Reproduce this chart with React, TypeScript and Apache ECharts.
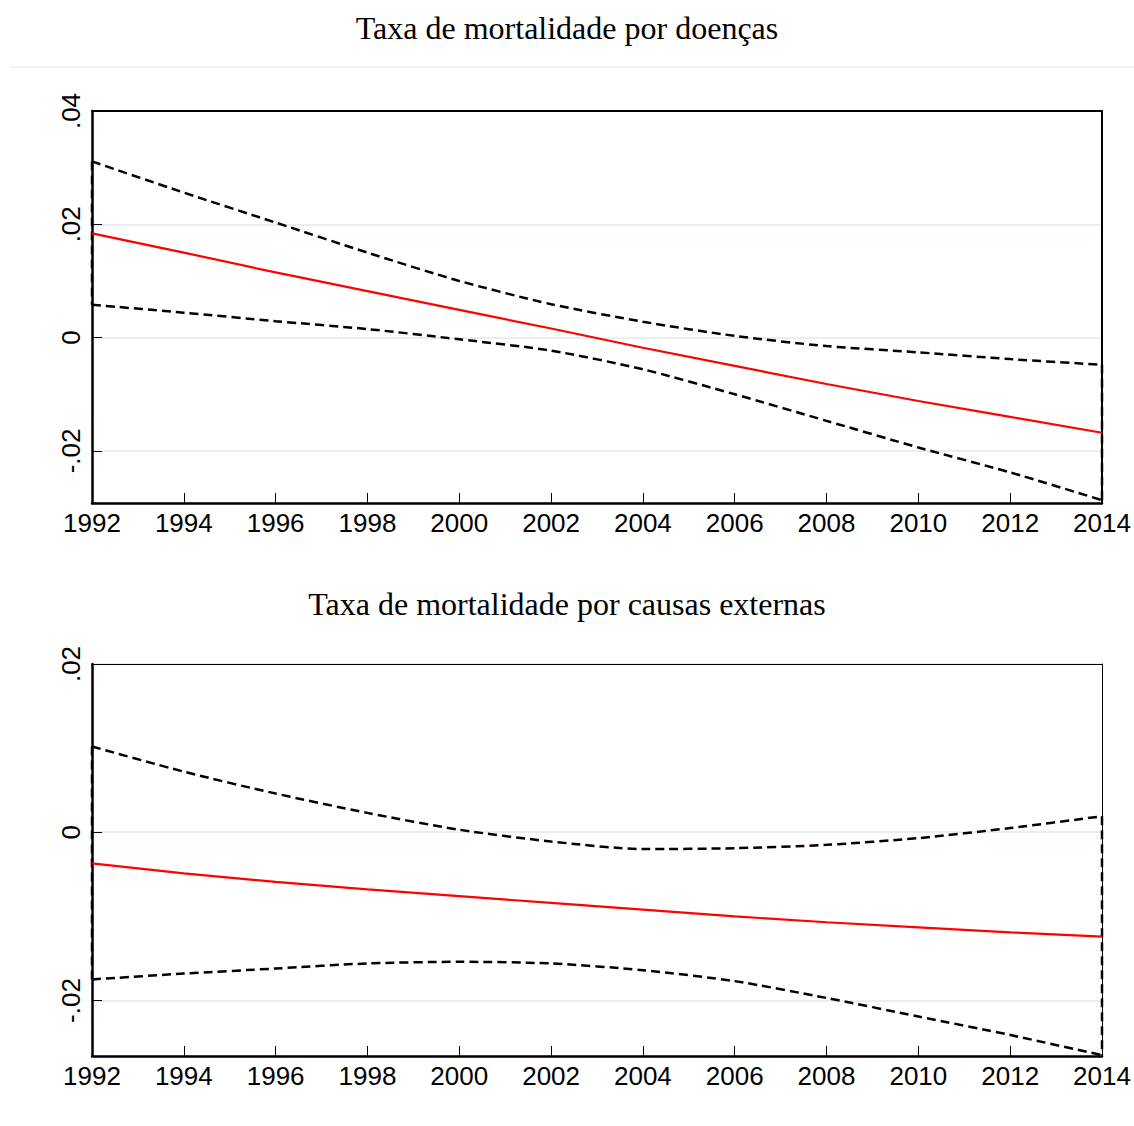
import React, { useEffect, useRef } from "react";
import * as echarts from "echarts";

const years = [1992, 1994, 1996, 1998, 2000, 2002, 2004, 2006, 2008, 2010, 2012, 2014];

const titleTop = "Taxa de mortalidade por doenças";
const titleBottom = "Taxa de mortalidade por causas externas";

const doencasFit = [0.0184, 0.015, 0.0115, 0.0082, 0.0049, 0.0016, -0.0018, -0.005, -0.0082, -0.0112, -0.014, -0.0168];
const doencasUpper = [0.0311, 0.0256, 0.0203, 0.015, 0.01, 0.0059, 0.0028, 0.0003, -0.0015, -0.0026, -0.0038, -0.0048];
const doencasLower = [0.0058, 0.0044, 0.0029, 0.0015, -0.0003, -0.0023, -0.0056, -0.01, -0.0147, -0.0194, -0.0238, -0.0287];

const externasFit = [-0.0037, -0.0049, -0.0059, -0.0068, -0.0076, -0.0084, -0.0092, -0.01, -0.0107, -0.0113, -0.0119, -0.0124];
const externasUpper = [0.0102, 0.0072, 0.0046, 0.0023, 0.0003, -0.0011, -0.002, -0.0019, -0.0015, -0.0007, 0.0005, 0.0019];
const externasLower = [-0.0175, -0.0168, -0.0162, -0.0156, -0.0154, -0.0156, -0.0164, -0.0177, -0.0197, -0.0219, -0.0241, -0.0265];

const SANS = "'Liberation Sans', Arial, sans-serif";
const SERIF = "'Liberation Serif', 'Times New Roman', serif";

const fmtY = (v: number) => {
  if (Math.abs(v) < 1e-9) return "0";
  const s = Math.abs(v).toFixed(2).replace(/^0/, "");
  return (v < 0 ? "-" : "") + s;
};

const pairs = (vals: number[]) => years.map((y, i) => [y, vals[i]]);

export default function App() {
  const ref = useRef<HTMLDivElement>(null);
  useEffect(() => {
    document.body.style.margin = "0";
    if (!ref.current) return;
    const chart = echarts.init(ref.current, undefined, { renderer: "svg" });

    const panels = [
      { top: 111, height: 392, min: -0.0292, max: 0.04, border: 2, fit: doencasFit, up: doencasUpper, lo: doencasLower },
      { top: 664, height: 392, min: -0.0266, max: 0.02, border: 1, fit: externasFit, up: externasUpper, lo: externasLower },
    ];

    const grid: any[] = [];
    const xAxis: any[] = [];
    const yAxis: any[] = [];
    const series: any[] = [];

    panels.forEach((p, gi) => {
      grid.push({ left: 92, right: 32, top: p.top, height: p.height, containLabel: false });
      const xi = xAxis.length;
      xAxis.push({
        type: "value",
        gridIndex: gi,
        min: years[0],
        max: years[years.length - 1],
        interval: 2,
        axisLine: { onZero: false, lineStyle: { color: "#000", width: 2.5 } },
        axisTick: { inside: true, length: 10, lineStyle: { color: "#000", width: 1 } },
        axisLabel: { color: "#000", fontSize: 26, fontFamily: SANS, margin: 7, formatter: (v: number) => String(v) },
        splitLine: { show: false },
      });
      xAxis.push({
        type: "value",
        gridIndex: gi,
        position: "top",
        min: years[0],
        max: years[years.length - 1],
        axisLine: { onZero: false, lineStyle: { color: "#000", width: p.border } },
        axisTick: { show: false },
        axisLabel: { show: false },
        splitLine: { show: false },
      });
      const yi = yAxis.length;
      yAxis.push({
        type: "value",
        gridIndex: gi,
        min: p.min,
        max: p.max,
        splitNumber: 3,
        minInterval: 0.02,
        maxInterval: 0.02,
        axisLine: { onZero: false, lineStyle: { color: "#000", width: 2.5 } },
        axisTick: { inside: true, length: 10, lineStyle: { color: "#000", width: 1 } },
        axisLabel: {
          color: "#000",
          fontSize: 26,
          fontFamily: SANS,
          rotate: 90,
          margin: 8,
          showMinLabel: false,
          formatter: fmtY,
        },
        splitLine: { show: true, lineStyle: { color: "#e8eff1", width: 2 } },
      });
      yAxis.push({
        type: "value",
        gridIndex: gi,
        position: "right",
        min: p.min,
        max: p.max,
        axisLine: { onZero: false, lineStyle: { color: "#000", width: p.border } },
        axisTick: { show: false },
        axisLabel: { show: false },
        splitLine: { show: false },
      });

      const dashed = { color: "#000", width: 2.5, type: [9, 5] };
      series.push(
        {
          type: "line",
          xAxisIndex: xi,
          yAxisIndex: yi,
          data: pairs(p.up),
          showSymbol: false,
          smooth: 0.25,
          lineStyle: dashed,
          z: 3,
        },
        {
          type: "line",
          xAxisIndex: xi,
          yAxisIndex: yi,
          data: pairs(p.lo),
          showSymbol: false,
          smooth: 0.25,
          lineStyle: dashed,
          z: 3,
        },
        {
          type: "line",
          xAxisIndex: xi,
          yAxisIndex: yi,
          data: [
            [years[0], p.up[0]],
            [years[0], p.lo[0]],
          ],
          showSymbol: false,
          lineStyle: dashed,
          z: 3,
        },
        {
          type: "line",
          xAxisIndex: xi,
          yAxisIndex: yi,
          data: [
            [years[years.length - 1], p.up[p.up.length - 1]],
            [years[years.length - 1], p.lo[p.lo.length - 1]],
          ],
          showSymbol: false,
          lineStyle: dashed,
          z: 3,
        },
        {
          type: "line",
          xAxisIndex: xi,
          yAxisIndex: yi,
          data: pairs(p.fit),
          showSymbol: false,
          lineStyle: { color: "#ff0000", width: 2.2 },
          z: 4,
        }
      );
    });

    chart.setOption({
      animation: false,
      backgroundColor: "#fff",
      title: [
        {
          text: titleTop,
          left: "center",
          top: 7,
          textStyle: { fontFamily: SERIF, fontSize: 32, fontWeight: "normal", color: "#000" },
        },
        {
          text: titleBottom,
          left: "center",
          top: 583,
          textStyle: { fontFamily: SERIF, fontSize: 32, fontWeight: "normal", color: "#000" },
        },
      ],
      graphic: [
        {
          type: "line",
          shape: { x1: 10, y1: 67, x2: 1134, y2: 67 },
          style: { stroke: "#eeeeee", lineWidth: 1.5 },
        },
      ],
      grid,
      xAxis,
      yAxis,
      series,
    });

    return () => chart.dispose();
  }, []);

  return <div ref={ref} style={{ width: 1134, height: 1126 }} />;
}
